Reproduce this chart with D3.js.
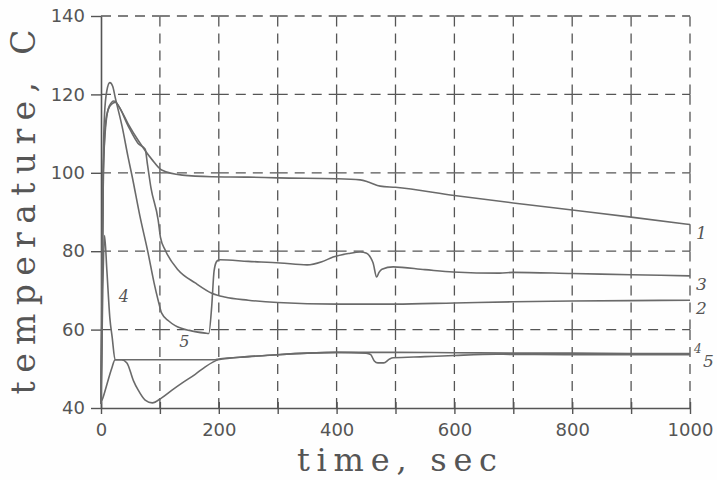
<!DOCTYPE html>
<html>
<head>
<meta charset="utf-8">
<script src="https://cdnjs.cloudflare.com/ajax/libs/d3/7.8.5/d3.min.js"></script>
<style>
  body { margin: 0; background: #fefefe; }
  svg { display: block; }
</style>
</head>
<body>
<svg width="717" height="480"></svg>
<script>
// readings taken off the plot: time (sec) and temperature (C)
var t1 = [0, 4, 8, 12, 18, 25, 30, 46, 63, 87, 103, 138, 188, 250, 300, 400, 440, 455, 474, 500, 600, 700, 800, 900, 1000];
var c1 = [41, 100, 113, 116, 117.5, 118, 117, 112.5, 108.3, 103.3, 100.7, 99.4, 99, 98.9, 98.7, 98.5, 98.2, 97.6, 96.6, 96.3, 94.2, 92.3, 90.5, 88.7, 86.8];

var t2 = [0, 4, 8, 14, 22, 30, 46, 63, 75, 79, 85, 97, 101, 109, 131, 160, 188, 210, 250, 300, 400, 500, 600, 700, 800, 900, 1000];
var c2 = [41, 100, 112, 117, 118.3, 117, 112, 107.5, 106, 102, 96, 88, 83.5, 80.3, 75.2, 71.9, 69.3, 68.3, 67.5, 66.9, 66.5, 66.5, 66.8, 67.1, 67.3, 67.4, 67.5];

var t3 = [0, 3, 6, 10, 15, 20, 24, 36, 46, 53, 66, 80, 90, 97, 103, 115, 126, 150, 177, 183, 188, 192, 197, 202, 250, 304, 350, 375, 394, 420, 440, 451, 458, 462, 468, 472, 477, 496, 550, 598, 677, 700, 800, 900, 1000];
var c3 = [42, 95, 115, 121, 123, 122, 119.3, 111.7, 104, 99, 89, 79.5, 72, 67.5, 64.2, 62.2, 61, 59.8, 59.1, 59, 66, 75, 77.5, 77.8, 77.4, 77, 76.5, 77.3, 78.5, 79.4, 79.8, 79.5, 78.3, 77, 73.4, 74.6, 75.4, 76, 75.3, 74.7, 74.4, 74.6, 74.3, 74, 73.7];

var t4 = [0, 3, 6, 10, 15, 19, 24, 35, 44, 55, 63, 75, 87, 103, 120, 138, 160, 177, 190, 199, 250, 300, 350, 400, 500, 600, 700, 800, 900, 1000];
var c4 = [41, 70, 84, 75, 63, 58, 52.3, 52.3, 51.5, 47, 44.6, 42, 41.3, 42.6, 44.5, 46.4, 48.6, 50.5, 51.7, 52.3, 53.1, 53.6, 54, 54.2, 54.2, 54.1, 54, 54, 53.9, 53.9];

var t5 = [0, 3, 10, 18, 24, 100, 194, 200, 250, 300, 350, 400, 450, 458, 464, 470, 480, 490, 496, 550, 600, 672, 800, 900, 1000];
var c5 = [41.5, 42.5, 46, 50, 52.3, 52.3, 52.3, 52.5, 53.1, 53.6, 54, 54.2, 54, 53.6, 52, 51.5, 51.5, 52.5, 52.8, 53.1, 53.4, 53.7, 53.6, 53.6, 53.6];

var seriesNames = ["1", "2", "3", "4", "5"];
var xTicks = [0, 100, 200, 300, 400, 500, 600, 700, 800, 900, 1000];
var yTicks = [40, 60, 80, 100, 120, 140];
// curve numbers written inside the plot (time, temperature)
var noteNames = ["4", "5"];
var noteTime = [30, 133];
var noteTemp = [67, 55.5];

var svg = d3.select("svg"),
    margin = {top: 16, right: 27, bottom: 72, left: 101},
    width = +svg.attr("width") - margin.left - margin.right,
    height = +svg.attr("height") - margin.top - margin.bottom;

var g = svg.append("g")
    .attr("transform", "translate(" + margin.left + "," + margin.top + ")");

var x = d3.scaleLinear().domain([0, 1000]).range([0, width]);
var y = d3.scaleLinear().domain([40, 140]).range([height, 0]);

var gridColor = "#555";
var lineColor = "#6a6a6a";

// dashed grid, one segment per cell so every dash starts at a crossing
var grid = g.append("g").attr("class", "grid")
    .attr("stroke", gridColor)
    .attr("stroke-width", 1.3)
    .attr("stroke-dasharray", "10,7")
    .attr("fill", "none");

yTicks.slice(1).forEach(function (v) {
    for (var i = 0; i < xTicks.length - 1; i++) {
        grid.append("line")
            .attr("x1", x(xTicks[i])).attr("x2", x(xTicks[i + 1]))
            .attr("y1", y(v)).attr("y2", y(v));
    }
});
xTicks.slice(1).forEach(function (v) {
    for (var i = 0; i < yTicks.length - 1; i++) {
        grid.append("line")
            .attr("x1", x(v)).attr("x2", x(v))
            .attr("y1", y(yTicks[i])).attr("y2", y(yTicks[i + 1]));
    }
});

// axes
var xAxis = g.append("g")
    .attr("transform", "translate(0," + height + ")")
    .call(d3.axisBottom(x)
        .tickValues(xTicks)
        .tickSize(6)
        .tickSizeOuter(0)
        .tickPadding(8)
        .tickFormat(function (d) { return d % 200 === 0 ? d : ""; }));
xAxis.selectAll(".tick line").attr("y1", -6);

var yAxis = g.append("g")
    .call(d3.axisLeft(y)
        .tickValues(yTicks)
        .tickSize(10)
        .tickSizeOuter(0)
        .tickPadding(6));

[xAxis, yAxis].forEach(function (a) {
    a.select(".domain").attr("stroke", gridColor).attr("stroke-width", 1.6);
    a.selectAll(".tick line").attr("stroke", gridColor).attr("stroke-width", 1.4);
    a.selectAll(".tick text")
        .attr("fill", "#555")
        .style("font-family", "'DejaVu Sans', sans-serif")
        .style("font-size", "18px");
});
xAxis.selectAll(".tick text").attr("dy", "0.75em");

// curves
var line = d3.line()
    .x(function (d) { return x(d[0]); })
    .y(function (d) { return y(d[1]); })
    .curve(d3.curveMonotoneX);

var series = [
    d3.zip(t1, c1), d3.zip(t2, c2), d3.zip(t3, c3), d3.zip(t4, c4), d3.zip(t5, c5)
];

g.append("g")
    .attr("class", "curves")
    .selectAll("path")
    .data(series)
    .enter().append("path")
    .attr("d", line)
    .attr("fill", "none")
    .attr("stroke", lineColor)
    .attr("stroke-width", 1.6);

// curve numbers at the right end
var labelFont = "'DejaVu Serif', serif";
g.append("g")
    .selectAll("text")
    .data(series)
    .enter().append("text")
    .attr("x", function (d, i) { return width + (i === 3 ? 4 : (i === 4 ? 13 : 6)); })
    .attr("y", function (d, i) {
        var last = d[d.length - 1][1];
        return y(last) + (i === 3 ? -1 : (i === 4 ? 12 : 14));
    })
    .style("font-family", labelFont)
    .style("font-style", "italic")
    .style("font-size", function (d, i) { return i === 3 ? "12px" : "17px"; })
    .attr("fill", "#555")
    .text(function (d, i) { return seriesNames[i]; });

g.append("g")
    .selectAll("text")
    .data(noteNames)
    .enter().append("text")
    .attr("x", function (d, i) { return x(noteTime[i]); })
    .attr("y", function (d, i) { return y(noteTemp[i]); })
    .style("font-family", labelFont)
    .style("font-style", "italic")
    .style("font-size", "16px")
    .attr("fill", "#555")
    .text(function (d) { return d; });

// axis titles
svg.append("text")
    .attr("x", 397)
    .attr("y", 471)
    .attr("text-anchor", "middle")
    .attr("textLength", 200)
    .attr("lengthAdjust", "spacing")
    .style("font-family", labelFont)
    .style("font-size", "32px")
    .attr("fill", "#555")
    .text("time, sec");

svg.append("text")
    .attr("transform", "translate(35," + (margin.top + 196) + ") rotate(-90)")
    .attr("text-anchor", "middle")
    .attr("textLength", 365)
    .attr("lengthAdjust", "spacing")
    .style("font-family", labelFont)
    .style("font-size", "33px")
    .attr("fill", "#555")
    .text("temperature, C");
</script>
</body>
</html>
